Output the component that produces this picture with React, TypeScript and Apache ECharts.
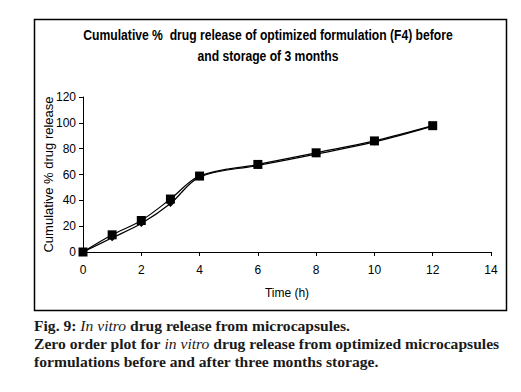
import React, { useEffect, useRef } from "react";
import * as echarts from "echarts";

const timeH = [0, 1, 2, 3, 4, 6, 8, 10, 12];
const beforeStorage = [0, 13.3, 24.4, 41, 58.8, 67.8, 76.8, 86, 97.8];
const afterStorage = [0, 11, 22, 37.5, 58, 67, 75.8, 85.2, 97.5];
const titleLines = [
  "Cumulative %  drug release of optimized formulation (F4) before",
  "and storage of 3 months",
];
const xAxisName = "Time (h)";
const yAxisName = "Cumulative % drug release";

export default function App() {
  const ref = useRef<HTMLDivElement>(null);
  useEffect(() => {
    if (!ref.current) return;
    const chart = echarts.init(ref.current, null, { renderer: "svg" });
    const sans = "'Liberation Sans', Arial, sans-serif";
    const serif = "'Liberation Serif', 'Times New Roman', serif";
    chart.setOption({
      animation: false,
      backgroundColor: "#ffffff",
      grid: { left: 83, right: 30, top: 97, bottom: 140, containLabel: false },
      xAxis: {
        type: "value",
        min: 0,
        max: 14,
        interval: 2,
        name: xAxisName,
        nameLocation: "middle",
        nameGap: 35,
        nameMoveOverlap: false,
        nameTextStyle: { color: "#000", fontFamily: sans, fontSize: 12 },
        axisLine: { lineStyle: { color: "#000", width: 1 } },
        axisTick: { lineStyle: { color: "#000" }, length: 4 },
        axisLabel: { color: "#000", fontFamily: sans, fontSize: 12, margin: 12 },
        splitLine: { show: false },
      },
      yAxis: {
        type: "value",
        min: 0,
        max: 120,
        interval: 20,
        name: yAxisName,
        nameLocation: "middle",
        nameGap: 28,
        nameMoveOverlap: false,
        nameTextStyle: { color: "#000", fontFamily: sans, fontSize: 13 },
        axisLine: { show: true, lineStyle: { color: "#000", width: 1 } },
        axisTick: { show: true, lineStyle: { color: "#000" }, length: 4 },
        axisLabel: { color: "#000", fontFamily: sans, fontSize: 12, margin: 7 },
        splitLine: { show: false },
      },
      series: [
        {
          name: "Before storage",
          type: "line",
          smooth: 0.35,
          data: timeH.map((t, i) => [t, beforeStorage[i]]),
          symbol: "rect",
          symbolSize: 9,
          itemStyle: { color: "#000" },
          lineStyle: { color: "#000", width: 1.2 },
        },
        {
          name: "After storage",
          type: "line",
          smooth: 0.35,
          data: timeH.map((t, i) => [t, afterStorage[i]]),
          symbol: "diamond",
          symbolSize: 7,
          itemStyle: { color: "#000" },
          lineStyle: { color: "#000", width: 1.2 },
        },
      ],
      graphic: [
        {
          type: "rect",
          shape: { x: 34.5, y: 19.5, width: 472, height: 291 },
          style: { fill: "none", stroke: "#000", lineWidth: 1.5 },
          silent: true,
        },
        {
          type: "text",
          x: 268,
          y: 35,
          scaleX: 0.81,
          style: {
            text: titleLines[0],
            font: `bold 15px ${sans}`,
            fill: "#000",
            align: "center",
            verticalAlign: "middle",
          },
        },
        {
          type: "text",
          x: 268,
          y: 56,
          scaleX: 0.81,
          style: {
            text: titleLines[1],
            font: `bold 15px ${sans}`,
            fill: "#000",
            align: "center",
            verticalAlign: "middle",
          },
        },
        {
          type: "text",
          x: 34,
          y: 316,
          style: {
            text:
              "{b|Fig. 9: }{i|In vitro}{b| drug release from microcapsules.}\n" +
              "{b|Zero order plot for }{i|in vitro}{b| drug release from optimized microcapsules}\n" +
              "{b|formulations before and after three months storage.}",
            fill: "#1a1a1a",
            rich: {
              b: { fontFamily: serif, fontWeight: "bold", fontSize: 15.6, lineHeight: 18, fill: "#1a1a1a" },
              i: { fontFamily: serif, fontStyle: "italic", fontSize: 15.6, lineHeight: 18, fill: "#1a1a1a" },
            },
          },
        },
      ],
    });
    return () => chart.dispose();
  }, []);
  return (
    <div
      ref={ref}
      style={{ position: "absolute", left: 0, top: 0, width: 521, height: 392 }}
    />
  );
}
